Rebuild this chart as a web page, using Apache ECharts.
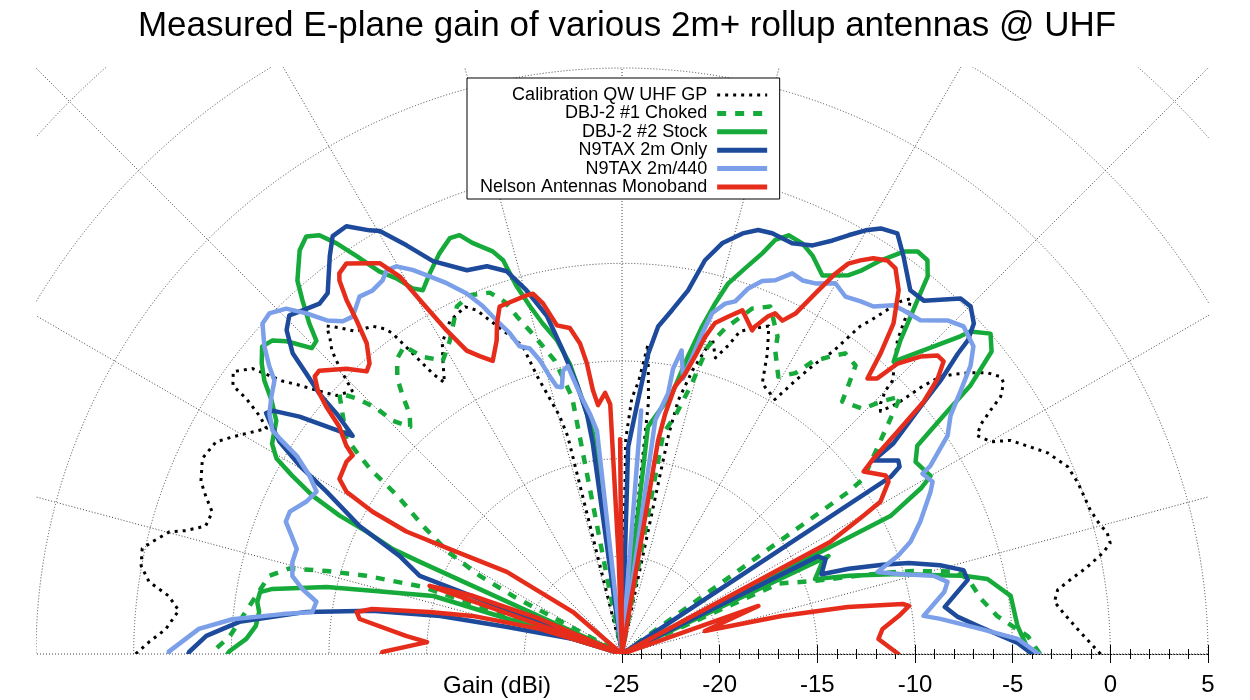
<!DOCTYPE html>
<html>
<head>
<meta charset="utf-8">
<script src="https://cdn.jsdelivr.net/npm/echarts@6/dist/echarts.min.js"></script>
<style>
html,body{margin:0;padding:0;background:#fff;}
#chart{width:1250px;height:700px;}
</style>
</head>
<body>
<div id="chart"></div>
<script>
// ---------- chart text ----------
const chartTitle = 'Measured E-plane gain of various 2m+ rollup antennas @ UHF';
const axisTitle = 'Gain (dBi)';
const seriesNames = ['Calibration QW UHF GP', 'DBJ-2 #1 Choked', 'DBJ-2 #2 Stock', 'N9TAX 2m Only', 'N9TAX 2m/440', 'Nelson Antennas Monoband'];

// ---------- radial (gain) tick range ----------
const gainMin = -25;
const gainMax = 5;
const gainStep = 5;
const gridGainMax = 20;   // grid circles continue beyond the plotted range (clipped by the frame)
const angleStep = 15;

// ---------- data: [angle (deg), gain (dBi)] ----------
const calibration = [
[0,-0.5],[1.3,-1.0],[3,-1.6],[5.3,-2.3],[6.9,-2.7],[8.4,-2.45],[9.4,-1.74],[10.6,-0.76],[11.9,0.17],[12.8,0.63],[14.1,0.6],[15.1,0.35],[17.1,0.08],[20.6,-0.07],[22.8,-0.25],[25.3,-0.9],[26.9,-1.57],[28.8,-2.3],[29.9,-3.2],[31.6,-3.66],[32.6,-3.2],[33.5,-2.36],[34.2,-1.56],[35.4,-1.03],[36.2,-0.97],[37.6,-1.4],[38.9,-2.07],[40.2,-2.83],[41.05,-3.37],[41.7,-4.4],[42.3,-5.94],[43.2,-6.85],[44.1,-6.57],[45,-5.93],[45.3,-5.3],[48.7,-3.64],[49.6,-2.77],[50.2,-2.1],[50.9,-1.56],[51.7,-2.0],[53.3,-3.7],[54,-4.26],[55.1,-6.1],[56.4,-7.2],[57.6,-8.4],[59,-9.8],[62.6,-9.4],[64.2,-7.9],[65.9,-6.6],[69.9,-7.4],[71,-8.3],[72.5,-9.1],[74,-8.2],[76,-10],[77.5,-11.7],[78,-13.5],[80,-25],[84,-12],[85.2,-9.1],[86.5,-11],[87.8,-11.9],[89,-14],[91,-25],
[100,-25],[104,-13.5],[104.7,-12.4],[106,-11.2],[107,-10.1],[107.9,-8.4],[112.9,-5.9],[114.3,-5.5],[117.3,-5.8],[120,-6.6],[121.4,-7.4],[123.2,-8.4],[124,-7.7],[125,-6.0],[125.6,-4.8],[126.1,-4.4],[127.3,-3.9],[129.5,-3.6],[130.9,-2.9],[132,-2.4],[132.8,-3.0],[133.7,-3.5],[134.2,-4.0],[135,-4.9],[135.7,-5.7],[137.8,-5.3],[139,-4.5],[140.2,-3.5],[141.2,-2.7],[142.3,-1.1],[144,-0.4],[145.4,-0.8],[145.8,-1.75],[146.7,-2.8],[147.6,-3.45],[150.8,-2.2],[152.4,-1.55],[155,-1.3],[157.7,-1.7],[159.2,-2.2],[160.9,-2.8],[162.9,-2.7],[164.2,-1.8],[164.9,-1.0],[166.5,-0.3],[167.6,0.15],[169.6,0.03],[171.3,-0.5],[172.7,-1.6],[174.4,-2.2],[176.9,-1.6],[178.5,-0.8],[180,-0.1]
];

const choked = [
[0,-3.6],[2.5,-4.2],[5.8,-5.7],[8.7,-6.4],[11.7,-6.8],[13.8,-7.3],[15.9,-9.5],[16.8,-10.5],[18.3,-12.2],[20.7,-14.4],[24.2,-16.2],[26,-25],[31,-25],[35.6,-10.74],[36,-9.73],[42.75,-5.58],[44.3,-6.5],[45.5,-7.4],[48.9,-7.85],[49.9,-7.0],[51,-6.0],[53.4,-5.83],[55,-6.4],[56.9,-7.13],[58.3,-8.1],[60.6,-8.7],[63.2,-7.6],[63.9,-6.9],[66.9,-5.66],[69.35,-6.1],[72.4,-7.5],[74.4,-8.65],[75.5,-10.7],[77.4,-12.5],[79.4,-13.5],[83,-25],
[98,-25],[101,-11.6],[102.9,-9.6],[104.4,-8.74],[105.9,-7.8],[107.3,-6.9],[108.4,-6.0],[110.1,-5.3],[113,-5.05],[115.4,-5.3],[118.8,-6.7],[121.4,-7.4],[123.8,-6.7],[125.3,-5.7],[127.3,-6.0],[129.2,-6.8],[130.4,-7.7],[131.5,-8.6],[133,-9.1],[134.5,-8.25],[135,-7.2],[136,-6.2],[137.3,-5.3],[142,-7.1],[142.7,-7.9],[143.7,-9.0],[144.8,-10.9],[147.25,-12.9],[149.6,-14.7],[151.2,-16.7],[152,-18.7],[154,-25],[160,-25],[161.4,-14.2],[163,-11.3],[164.3,-9.3],[165.6,-7.4],[167.5,-6.5],[177.4,-4.9],[179.3,-4.2],[180,-4.1]
];

const stock = [
[0,-4.1],[4.05,-4.7],[8.5,-4.88],[11.6,-5.9],[12.9,-7.06],[13.5,-7.8],[16.2,-10.3],[19,-12.7],[21.2,-14.4],[24.7,-13.7],[25.4,-13.3],[26.3,-25],[27.2,-9.55],[29,-7.5],[30,-6.76],[33.2,-7.04],[35.2,-6.5],[36.55,-4.5],[37.6,-2.5],[39.3,-0.55],[41,0.0],[42.8,-0.7],[43.2,-1.24],[47.1,-4.57],[48.4,-3.53],[50.4,-1.03],[51,-0.13],[52.2,0.51],[53.7,0.57],[55,0.15],[56.7,-0.9],[58.1,-1.9],[59.1,-2.4],[62.1,-3.07],[64.4,-2.4],[66.3,-2.04],[68.3,-1.93],[69.7,-2.4],[70.7,-3.27],[72.3,-4.28],[74,-5.26],[75.1,-6.4],[76.25,-7.74],[77.5,-9.4],[79.1,-11.4],[83.5,-13.3],[87,-25],
[95,-25],[97.5,-13.6],[98.8,-11.9],[100.2,-9.9],[101.7,-8.6],[103.5,-7.6],[104.8,-6.6],[106,-5.4],[106.8,-3.94],[107.8,-3.35],[110,-2.6],[111.2,-2.0],[112.5,-1.96],[114.5,-2.46],[116.8,-3.17],[118.7,-3.77],[119.8,-3.43],[121,-2.57],[122.4,-1.8],[123.7,-0.52],[124.8,0.6],[125.85,1.45],[127.1,1.8],[128.6,1.45],[131,0.33],[132.1,-0.6],[133.4,-1.7],[134.3,-2.6],[135.4,-2.7],[137,-1.52],[138.1,-0.96],[139.5,-0.77],[141.1,-1.3],[142.6,-1.95],[144.1,-2.85],[146,-3.65],[149,-4.1],[150.5,-4.68],[151.6,-5.8],[152.9,-7.2],[153.9,-8.9],[154.4,-10.5],[155.4,-12.1],[155.5,-13.6],[157,-25],[162.9,-14.9],[165.8,-11.8],[167.2,-9.5],[169.45,-6.8],[170.3,-6.2],[171.9,-6.14],[173.4,-6.3],[175.6,-6.2],[177.7,-5.75],[179.6,-4.9],[180,-4.8]
];

const twoMOnly = [
[0,-4.0],[1.6,-4.74],[4.3,-6.6],[6.3,-7.7],[8.3,-8.3],[12.1,-6.9],[13.8,-7.0],[15.6,-8.1],[17.6,-9.6],[18.9,-10.9],[20.6,-12.6],[21.8,-14.0],[25,-13.5],[26.5,-13.8],[28,-25],[31,-25],[33.4,-8.53],[34,-7.86],[35,-7.73],[37.6,-8.76],[37.8,-7.42],[39.65,-5.15],[40.65,-3.5],[41.8,-1.94],[42.2,-1.1],[43.2,-0.29],[44.9,0.2],[46.4,0.14],[49.5,-1.21],[51.6,-1.24],[54.7,-0.06],[56.8,0.74],[58.7,0.5],[60.1,0.02],[61.6,-0.63],[63,-1.24],[65,-1.92],[67.5,-2.24],[70.35,-2.13],[72.2,-2.2],[74,-2.6],[76.3,-3.36],[78.1,-4.4],[79.7,-6.08],[81.7,-7.2],[83.7,-8.13],[85,-9.56],[86.4,-12.0],[88.3,-14.4],[91,-25],
[96,-25],[97.9,-14.1],[98.3,-12.6],[99.5,-11.0],[101,-9.2],[102.5,-7.3],[104.7,-5.76],[106.75,-4.54],[109.2,-3.98],[112,-3.81],[115.7,-2.68],[117.8,-1.35],[119.8,-0.05],[120.8,0.25],[122.8,1.05],[124.7,1.02],[126.3,0.27],[129.2,-1.16],[130.8,-1.3],[132.9,-0.98],[134.5,-0.7],[136,-1.13],[137.6,-2.17],[138.4,-3.4],[139.3,-4.56],[139.9,-5.9],[141,-7.25],[142.4,-5.9],[143.65,-4.5],[145.15,-3.2],[145.9,-3.0],[146.6,-3.4],[148.2,-4.36],[149.7,-5.9],[151.2,-7.74],[154,-10.05],[156.2,-12.55],[158.9,-13.9],[160,-25],[163,-22.4],[166.8,-18.9],[168.2,-15.5],[170.2,-12.0],[172.4,-8.7],[175.2,-5.34],[177.5,-3.7],[179.7,-2.85],[180,-2.8]
];

const twoM440 = [
[0,-3.66],[2.2,-4.73],[4,-6.6],[6.3,-8.6],[7.2,-9.44],[10.9,-8.2],[12.5,-7.93],[14.1,-8.56],[16.2,-10.3],[17.8,-11.26],[19.6,-10.0],[21.25,-9.15],[23.9,-8.3],[27.75,-7.15],[29,-6.82],[30.96,-7.06],[31.4,-6.5],[33.85,-4.93],[35.96,-4.22],[37.8,-3.07],[39.6,-1.84],[41.2,-1.09],[43.8,-0.77],[45.7,-1.14],[48.2,-2.08],[50.7,-2.26],[52.1,-2.38],[54.1,-3.04],[55.9,-3.2],[58,-3.42],[60.07,-3.1],[62.45,-3.6],[64.2,-3.76],[65.9,-3.65],[67.7,-4.32],[69.4,-4.6],[70.95,-5.2],[72.2,-6.04],[73.6,-6.3],[75.2,-6.96],[75.96,-8.1],[77.5,-10.55],[78.9,-9.16],[79.85,-10.15],[79.97,-11.46],[81.9,-12.9],[83.5,-25],[85.5,-12.5],[87,-25],
[94,-25],[96.4,-13.5],[97.6,-12.6],[99.2,-11.5],[100.66,-10.0],[101.8,-10.2],[102.7,-11.0],[103.7,-10.9],[104.6,-10.3],[105.6,-9.4],[106.8,-8.66],[108.4,-8.4],[109.3,-7.6],[110.6,-6.76],[111.8,-5.83],[113.3,-4.9],[115.3,-4.0],[117,-3.3],[118.6,-2.6],[120.2,-2.04],[121.5,-1.95],[122.65,-2.28],[124.45,-2.43],[126.3,-2.3],[127.4,-2.6],[128.6,-2.9],[130,-2.76],[131.5,-2.2],[132.8,-1.23],[134.2,-0.34],[136,0.1],[137.4,0.0],[139.3,-0.85],[140.8,-1.7],[141.8,-2.36],[143.7,-2.73],[145.7,-3.15],[147.4,-3.76],[147.8,-4.28],[148.65,-5.5],[150.3,-6.58],[152,-7.29],[154.2,-7.06],[156.8,-6.5],[158.5,-6.5],[160.3,-7.03],[162.1,-7.5],[164.4,-7.48],[166.7,-7.66],[168.5,-8.3],[170.3,-9.13],[172.3,-9.0],[173.3,-7.5],[174.9,-4.97],[176.6,-3.3],[179.7,-1.8],[180,-1.8]
];

const nelson = [
[0,-10.85],[3.35,-11.85],[5.5,-11.6],[7.8,-10.7],[9.5,-10.1],[10.1,-10.4],[11.75,-13.2],[13.4,-16.6],[15.5,-20.6],[19.4,-17.6],[21,-25],[27,-25],[28.3,-12.9],[29.8,-10.76],[30.5,-9.65],[32.9,-8.75],[34.1,-8.7],[37.05,-9.5],[37.85,-8.7],[38.9,-6.88],[39.9,-4.87],[41.1,-3.55],[42.3,-2.74],[43.4,-2.76],[44.9,-3.43],[46.5,-4.5],[47.2,-5.77],[48.3,-6.11],[49.3,-4.7],[50.6,-3.1],[52.75,-1.6],[54.65,-0.8],[56,-0.7],[57.6,-1.0],[58.8,-1.44],[59.9,-1.9],[60.7,-2.66],[61.8,-4.05],[63,-5.44],[64.3,-6.06],[65.8,-5.88],[66.6,-6.16],[67.9,-6.9],[68.1,-7.14],[70.7,-6.36],[72.5,-6.88],[74.3,-7.4],[75.3,-8.2],[76.2,-9.3],[77.3,-10.3],[78.8,-11.04],[79.8,-12.5],[80.4,-13.9],[83,-25],[88,-25],[90.5,-14],[91.5,-25],
[92,-20],[92.7,-12.2],[93.7,-11.6],[95.5,-12.2],[96.3,-11.4],[96.9,-10.0],[97.7,-8.96],[99.1,-8.1],[101.2,-7.85],[102.7,-6.6],[103.9,-6.0],[104.9,-6.0],[109.4,-6.14],[110.7,-6.9],[111.8,-7.72],[113.8,-8.6],[115.55,-8.1],[117.1,-7.55],[118.45,-6.16],[119.6,-4.35],[120.5,-2.56],[121.8,-1.46],[122.55,-1.27],[125.2,-0.53],[126.6,-0.73],[127.1,-1.02],[127.9,-2.05],[128.5,-3.17],[129.4,-4.41],[131,-5.3],[132.1,-5.5],[134,-4.7],[136.9,-3.77],[137.9,-3.8],[139.1,-4.4],[140.1,-5.27],[141.2,-6.43],[142.9,-7.3],[143.6,-7.87],[145.1,-7.8],[148.2,-7.98],[149.5,-8.63],[150.3,-10.3],[150.4,-12.3],[148.3,-15.05],[144.5,-17.76],[139.4,-21.7],[145,-25],[156.9,-20.4],[158.7,-16.8],[160.5,-14.55],[161.5,-25],[163,-20.6],[165.7,-17.1],[167.7,-14.9],[169.8,-12.0],[171,-11.24],[172.4,-11.45],[175.2,-13.9],[176.5,-15.0],[179.5,-12.74],[180,-12.7]
];

// ---------- styles ----------
const FONT = 'Liberation Sans, Arial, Helvetica, sans-serif';
const CX = 622, CY = 654, PLOT_R = 586;        // plot geometry (pixels)
const gridColor = '#444';
const styles = [
  {color:'#000000', width:3, legendWidth:3, type:[3,5], cap:'butt'},
  {color:'#16aa3a', width:4.5, legendWidth:5, type:[9,9], cap:'butt'},
  {color:'#16aa3a', width:4.5, legendWidth:5, type:'solid', cap:'round'},
  {color:'#1e4a9c', width:4.5, legendWidth:5, type:'solid', cap:'round'},
  {color:'#7b9fe8', width:4.5, legendWidth:5, type:'solid', cap:'round'},
  {color:'#e62d1c', width:4.5, legendWidth:5, type:'solid', cap:'round'}
];
const allData = [calibration, choked, stock, twoMOnly, twoM440, nelson];

const series = allData.map((d, i) => ({
  name: seriesNames[i],
  type: 'line',
  coordinateSystem: 'polar',
  polarIndex: 0,
  symbol: 'none',
  showSymbol: false,
  smooth: false,
  z: 3 + i,
  lineStyle: {color: styles[i].color, width: styles[i].width, type: styles[i].type, cap: styles[i].cap, join: 'round'},
  itemStyle: {color: styles[i].color},
  data: d.map(p => [p[1], p[0]])   // polar data order: [radius(gain), angle]
}));

const legendData = seriesNames.map((n, i) => ({
  name: n,
  itemStyle: {opacity: 0, borderWidth: 0},
  lineStyle: {color: styles[i].color, width: styles[i].legendWidth, type: styles[i].type, cap: 'butt'}
}));

const gridRadius = PLOT_R * (gridGainMax - gainMin) / (gainMax - gainMin);
const dotted = {color: gridColor, width: 1, type: [1, 2]};
const tickGrid = {left: CX, right: 1250 - (CX + PLOT_R), top: 600, bottom: 700 - CY};

const chart = echarts.init(document.getElementById('chart'), null, {renderer: 'canvas'});
chart.setOption({
  animation: false,
  backgroundColor: '#ffffff',
  title: {
    text: chartTitle, left: CX, top: 4, textAlign: 'center', z: 20,
    textStyle: {fontFamily: FONT, fontSize: 35, fontWeight: 'normal', color: '#000'}
  },
  legend: {
    data: legendData, orient: 'vertical', align: 'right',
    left: 467, top: 78, padding: [8, 10, 3, 13],
    itemWidth: 50, itemHeight: 10, itemGap: 0.4,
    backgroundColor: '#fff', borderColor: '#000', borderWidth: 1, borderRadius: 0,
    selectedMode: false, z: 10,
    itemStyle: {opacity: 0, borderWidth: 0},
    textStyle: {fontFamily: FONT, fontSize: 18, color: '#000', lineHeight: 17, padding: [0, 5, 0, 0]}
  },
  polar: {center: [CX, CY], radius: gridRadius},
  angleAxis: {
    type: 'value', min: 0, max: 180, interval: angleStep,
    startAngle: 0, endAngle: 180, clockwise: false,
    axisLine: {show: false}, axisTick: {show: false}, axisLabel: {show: false},
    splitLine: {show: true, lineStyle: dotted}
  },
  radiusAxis: {
    type: 'value', min: gainMin, max: gridGainMax, interval: gainStep,
    axisLine: {show: false}, axisTick: {show: false}, axisLabel: {show: false},
    splitLine: {show: true, lineStyle: dotted}
  },
  grid: [Object.assign({}, tickGrid), Object.assign({}, tickGrid)],
  xAxis: [
    {
      gridIndex: 0, type: 'value', min: gainMin, max: gainMax, interval: gainStep, position: 'bottom',
      axisLine: {show: true, onZero: false, lineStyle: {color: '#000', width: 1, type: [1, 2]}},
      axisTick: {show: true, inside: true, length: 9, lineStyle: {color: '#000', width: 1}},
      minorTick: {show: true, splitNumber: 5, length: 5, lineStyle: {color: '#000', width: 1}},
      splitLine: {show: false},
      axisLabel: {show: true, margin: 19, fontFamily: FONT, fontSize: 24, color: '#000'}
    },
    {
      gridIndex: 1, type: 'value', min: gainMin, max: gainMax, interval: gainStep, position: 'bottom',
      axisLine: {show: false, onZero: false},
      axisTick: {show: true, inside: false, length: 9, lineStyle: {color: '#000', width: 1}},
      minorTick: {show: true, splitNumber: 5, length: 5, lineStyle: {color: '#000', width: 1}},
      splitLine: {show: false},
      axisLabel: {show: false}
    }
  ],
  yAxis: [
    {gridIndex: 0, type: 'value', min: 0, max: 1, show: false},
    {gridIndex: 1, type: 'value', min: 0, max: 1, show: false}
  ],
  graphic: {elements: [
    {type: 'rect', silent: true, z: 15, shape: {x: 0, y: 0, width: 1250, height: 67}, style: {fill: '#fff'}},
    {type: 'rect', silent: true, z: 15, shape: {x: 0, y: 0, width: 36, height: CY + 3}, style: {fill: '#fff'}},
    {type: 'rect', silent: true, z: 15, shape: {x: CX + PLOT_R + 1, y: 0, width: 100, height: CY + 3}, style: {fill: '#fff'}},
    {type: 'text', silent: true, z: 16, x: 551, y: 686,
     style: {text: axisTitle, fill: '#000', font: '24px ' + FONT, align: 'right', verticalAlign: 'middle', textAlign: 'right', textVerticalAlign: 'middle'}}
  ]},
  series: series
});
</script>
</body>
</html>
